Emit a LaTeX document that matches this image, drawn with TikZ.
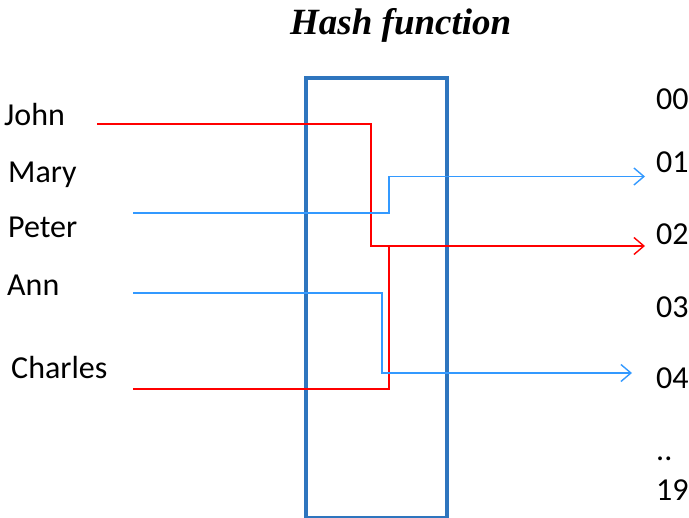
\documentclass[tikz,border=0pt]{standalone}
\usepackage{fontspec}
\setmainfont{Carlito}
\newfontfamily\titlefont{Liberation Serif}
\usetikzlibrary{arrows.meta}
\definecolor{boxblue}{RGB}{46,117,190}
\definecolor{linkblue}{RGB}{51,153,255}
\definecolor{linkred}{RGB}{255,0,0}
\begin{document}
\begin{tikzpicture}[x=1bp,y=-1bp,
  label/.style={anchor=base west,inner sep=0pt,font=\fontsize{32bp}{36bp}\selectfont},
  redlink/.style={draw=linkred,line width=1.6bp},
  bluelink/.style={draw=linkblue,line width=1.6bp},
  tip/.style={-{Straight Barb[length=10bp,width=17bp,line width=1.4bp]}}]
\useasboundingbox (0,0) rectangle (689,518);
% title
\node[anchor=base west,inner sep=0pt,font=\titlefont\bfseries\itshape\fontsize{37bp}{40bp}\selectfont] (title) at (290,35) {Hash function};
% the hash function box
\node[draw=boxblue,line width=3.8bp,minimum width=141bp,minimum height=440bp,inner sep=0pt,anchor=north west] (hash) at (304,76) {};
% keys
\node[label] (john) at (4,126) {John};
\node[label] (mary) at (8,183) {Mary};
\node[label] (peter) at (8,238) {Peter};
\node[label] (ann) at (7,295) {Ann};
\node[label] (charles) at (11,378) {Charles};
% buckets
\node[label] (b00) at (656,110) {00};
\node[label] (b01) at (656,173) {01};
\node[label] (b02) at (656,245) {02};
\node[label] (b03) at (656,317) {03};
\node[label] (b04) at (656,388) {04};
\node[label] (bdots) at (656,460) {..};
\node[label] (b19) at (656,500) {19};
% line ends
\coordinate (jS) at (97,124);
\coordinate (pS) at (133,213);
\coordinate (aS) at (133,293);
\coordinate (cS) at (133,389);
\coordinate (e01) at (645,176.5);
\coordinate (e02) at (645,246);
\coordinate (e04) at (632,373);
% connectors
\draw[redlink,tip] (jS) -- (371,124) -- (371,246) -- (e02);
\draw[redlink] (cS) -- (389,389) -- (389,246);
\draw[bluelink,tip] (pS) -- (389,213) -- (389,176.5) -- (e01);
\draw[bluelink,tip] (aS) -- (382,293) -- (382,373) -- (e04);
\end{tikzpicture}
\end{document}
